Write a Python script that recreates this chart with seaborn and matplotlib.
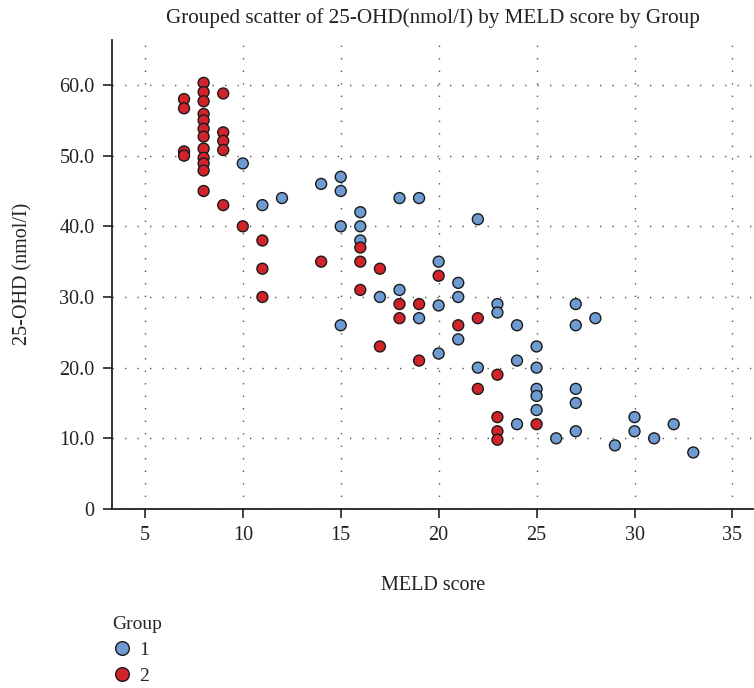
import matplotlib
matplotlib.use("Agg")
import matplotlib.pyplot as plt
import seaborn as sns
import pandas as pd

# ---- data ----
g1_meld = [10, 11, 12, 14, 15, 15, 18, 19, 16, 22, 15, 16, 16, 20, 21, 18, 17, 21, 20, 19,
           15, 21, 20, 22, 23, 23, 24, 27, 27, 28, 25, 24, 25, 25, 25, 27, 27, 25, 30, 24,
           27, 30, 26, 29, 31, 32, 33]
g1_ohd = [48.9, 43, 44, 46, 47, 45, 44, 44, 42, 41, 40, 40, 38, 35, 32, 31, 30, 30, 28.8, 27,
          26, 24, 22, 20, 29, 27.8, 26, 29, 26, 27, 23, 21, 20, 17, 16, 17, 15, 14, 13, 12,
          11, 11, 10, 9, 10, 12, 8]

g2_meld = [7, 7, 7, 7,
           8, 8, 8, 8, 8, 8, 8, 8, 8, 8, 8, 8,
           9, 9, 9, 9, 9,
           10, 11, 11, 11, 14, 16, 16, 17, 20, 16, 18, 19, 18, 21, 22, 17, 19, 23, 22, 23, 25, 23, 23]
g2_ohd = [58, 56.7, 50.6, 50,
          60.3, 59, 57.7, 55.9, 55, 53.8, 52.7, 51, 49.7, 48.9, 47.9, 45,
          58.8, 53.3, 52.1, 50.8, 43,
          40, 38, 34, 30, 35, 37, 35, 34, 33, 31, 29, 29, 27, 26, 27, 23, 21, 19, 17, 13, 12, 11, 9.8]

groups = ["1", "2"]
x_ticks = [5, 10, 15, 20, 25, 30, 35]
x_tick_labels = ["5", "10", "15", "20", "25", "30", "35"]
y_ticks = [0, 10, 20, 30, 40, 50, 60]
y_tick_labels = ["0", "10.0", "20.0", "30.0", "40.0", "50.0", "60.0"]

df = pd.DataFrame({
    "MELD score": g1_meld + g2_meld,
    "25-OHD": g1_ohd + g2_ohd,
    "Group": [groups[0]] * len(g1_meld) + [groups[1]] * len(g2_meld),
})

sns.set_theme(style="white")
plt.rcParams["font.family"] = ["Liberation Serif", "DejaVu Serif"]

fig = plt.figure(figsize=(7.54, 6.88), dpi=100)
ax = fig.add_axes([0.1485, 0.2602, 0.8515, 0.682])

sns.scatterplot(data=df, x="MELD score", y="25-OHD", hue="Group", hue_order=groups,
                palette={"1": "#6F9BD3", "2": "#D2232A"}, s=62, edgecolor="#1a1a1a",
                linewidth=1.0, ax=ax, zorder=3)

ax.set_xlim(3.32, 36.1)
ax.set_ylim(0, 66.4)
ax.set_xticks(x_ticks)
ax.set_xticklabels(x_tick_labels)
ax.set_yticks(y_ticks)
ax.set_yticklabels(y_tick_labels)
ax.grid(True, linestyle=(0, (1, 8)), color="#555555", linewidth=1.0)
for s in ["top", "right"]:
    ax.spines[s].set_visible(False)
for s in ["left", "bottom"]:
    ax.spines[s].set_color("#222222")
    ax.spines[s].set_linewidth(1.3)
ax.tick_params(axis="both", which="major", direction="out", length=6.5, width=1.2,
               color="#222222", labelsize=14.5, labelcolor="#222222", bottom=True, left=True)
ax.tick_params(axis="x", pad=6)
ax.tick_params(axis="y", pad=6)
ax.set_xlabel("MELD score", fontsize=14.5, color="#222222", labelpad=22)
ax.set_ylabel("25-OHD (nmol/I)", fontsize=14.5, color="#222222", labelpad=19)
ax.set_title("Grouped scatter of 25-OHD(nmol/I) by MELD score by Group", fontsize=15.2,
             color="#222222", pad=12)

sns.move_legend(ax, loc="upper left", bbox_to_anchor=(0.0, -0.229), frameon=False,
                title="Group", fontsize=14, title_fontsize=14, alignment="left",
                borderpad=0, borderaxespad=0, handletextpad=0.4, labelspacing=0.42,
                handlelength=1.0, markerscale=1.25)

fig.savefig("out.png", dpi=100)
